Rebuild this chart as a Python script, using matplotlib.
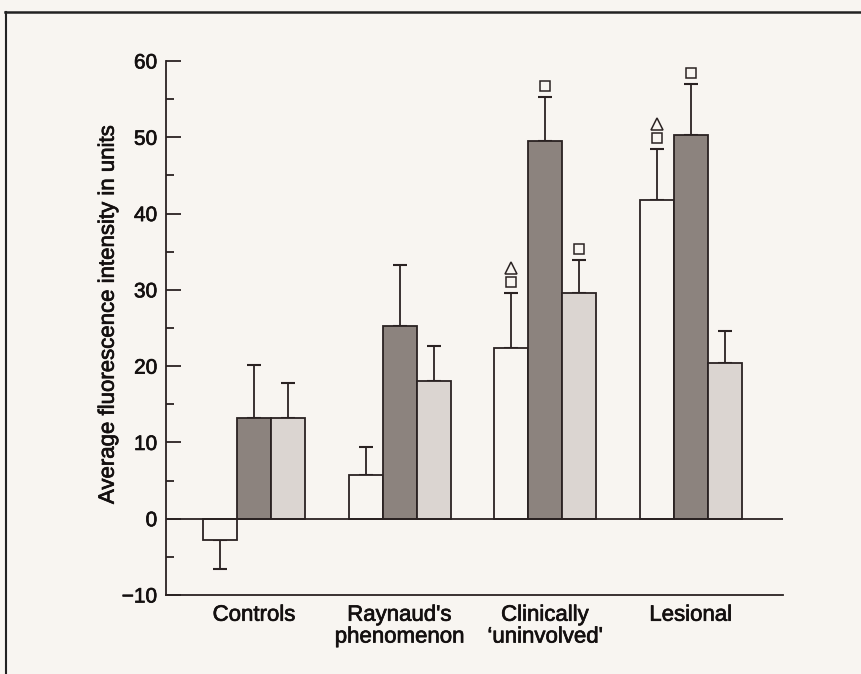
import matplotlib
matplotlib.use("Agg")
import matplotlib.pyplot as plt
import matplotlib.transforms as mtransforms
import matplotlib.patheffects as pe
from matplotlib.lines import Line2D
import numpy as np

plt.rcParams['font.family'] = ['Liberation Sans', 'DejaVu Sans']

categories = ["Controls", "Raynaud's\nphenomenon", "Clinically\n\u2018uninvolved'", "Lesional"]
white_vals = [-2.8, 5.7, 22.4, 41.8]
white_err = [3.8, 3.7, 7.2, 6.7]
dark_vals = [13.2, 25.2, 49.5, 50.3]
dark_err = [6.9, 8.0, 5.8, 6.7]
light_vals = [13.2, 18.0, 29.6, 20.4]
light_err = [4.6, 4.7, 4.3, 4.2]
# significance symbols: (series, category index, symbols from bottom up)
marks = [("white", 2, ["s", "^"]), ("dark", 2, ["s"]), ("light", 2, ["s"]),
         ("white", 3, ["s", "^"]), ("dark", 3, ["s"])]
yticks = [-10, 0, 10, 20, 30, 40, 50, 60]

bg = "#f8f5f1"
ink = "#2a2222"
txt = "#141010"
heavy = [pe.withStroke(linewidth=0.5, foreground=txt)]

fig = plt.figure(figsize=(8.62, 6.74), dpi=100, facecolor=bg)
ax = fig.add_axes([0.1922, 0.1172, 0.9087 - 0.1922, 0.9095 - 0.1172])
ax.set_facecolor(bg)

x = np.arange(len(categories))
w = 0.2335
series = {
    "white": (x - w, white_vals, white_err, bg),
    "dark": (x, dark_vals, dark_err, "#8c837e"),
    "light": (x + w, light_vals, light_err, "#dbd5d1"),
}
for name, (xs, vals, errs, col) in series.items():
    vals = np.array(vals)
    errs = np.array(errs)
    ax.bar(xs, vals, width=w, color=col, edgecolor=ink, linewidth=1.3, zorder=2)
    lower = np.where(vals < 0, errs, 0)
    upper = np.where(vals >= 0, errs, 0)
    ax.errorbar(xs, vals, yerr=[lower, upper], fmt="none", ecolor=ink,
                elinewidth=1.3, capsize=5, capthick=1.5, zorder=1)

for name, ci, syms in marks:
    xs, vals, errs, _ = series[name]
    top = vals[ci] + errs[ci]
    for k, sym in enumerate(syms):
        off = 8 + 10 * k
        ax.plot([xs[ci]], [top], marker=sym, markersize=7.5 if sym == "s" else 8,
                markerfacecolor="none", markeredgecolor=ink, markeredgewidth=1.1,
                linestyle="none", zorder=3,
                transform=ax.transData + mtransforms.ScaledTranslation(0, off / 72, fig.dpi_scale_trans),
                clip_on=False)

ax.set_xlim(-0.606, 3.635)
ax.set_ylim(-10, 60)
ax.set_yticks(yticks)
ax.set_yticks(np.arange(-5, 60, 10), minor=True)
ax.tick_params(axis="y", which="major", direction="in", length=11, width=1.3,
               colors=ink, labelsize=15, pad=6)
ax.tick_params(axis="y", which="minor", direction="in", length=5.5, width=1.3, colors=ink)
ax.set_yticklabels(["\u221210" if v < 0 else str(v) for v in yticks])
for lab in ax.get_yticklabels():
    lab.set_color(txt)
    lab.set_path_effects(heavy)

ax.set_xticks(x)
ax.set_xticklabels(categories, fontsize=16, color=txt, linespacing=1.05)
for lab in ax.get_xticklabels():
    lab.set_path_effects(heavy)
ax.tick_params(axis="x", length=0, pad=7)

for s in ["top", "right", "bottom"]:
    ax.spines[s].set_visible(False)
ax.spines["left"].set_color(ink)
ax.spines["left"].set_linewidth(1.3)
ax.axhline(0, color=ink, linewidth=1.3, zorder=2.5)
ax.plot([-0.606, 3.635], [-10, -10], color=ink, linewidth=1.3, clip_on=False)

ylab = ax.set_ylabel("Average fluorescence intensity in units", fontsize=16, color=txt)
ylab.set_path_effects(heavy)
ax.yaxis.set_label_coords(-0.076, 0.526)

fig.add_artist(Line2D([5 / 862, 1.0], [1 - 12 / 674, 1 - 12 / 674], color="#222", linewidth=1.8,
                      transform=fig.transFigure))
fig.add_artist(Line2D([6 / 862, 6 / 862], [1 - 12 / 674, 0], color="#222", linewidth=1.5,
                      transform=fig.transFigure))

fig.savefig("out.png", dpi=100, facecolor=bg)
